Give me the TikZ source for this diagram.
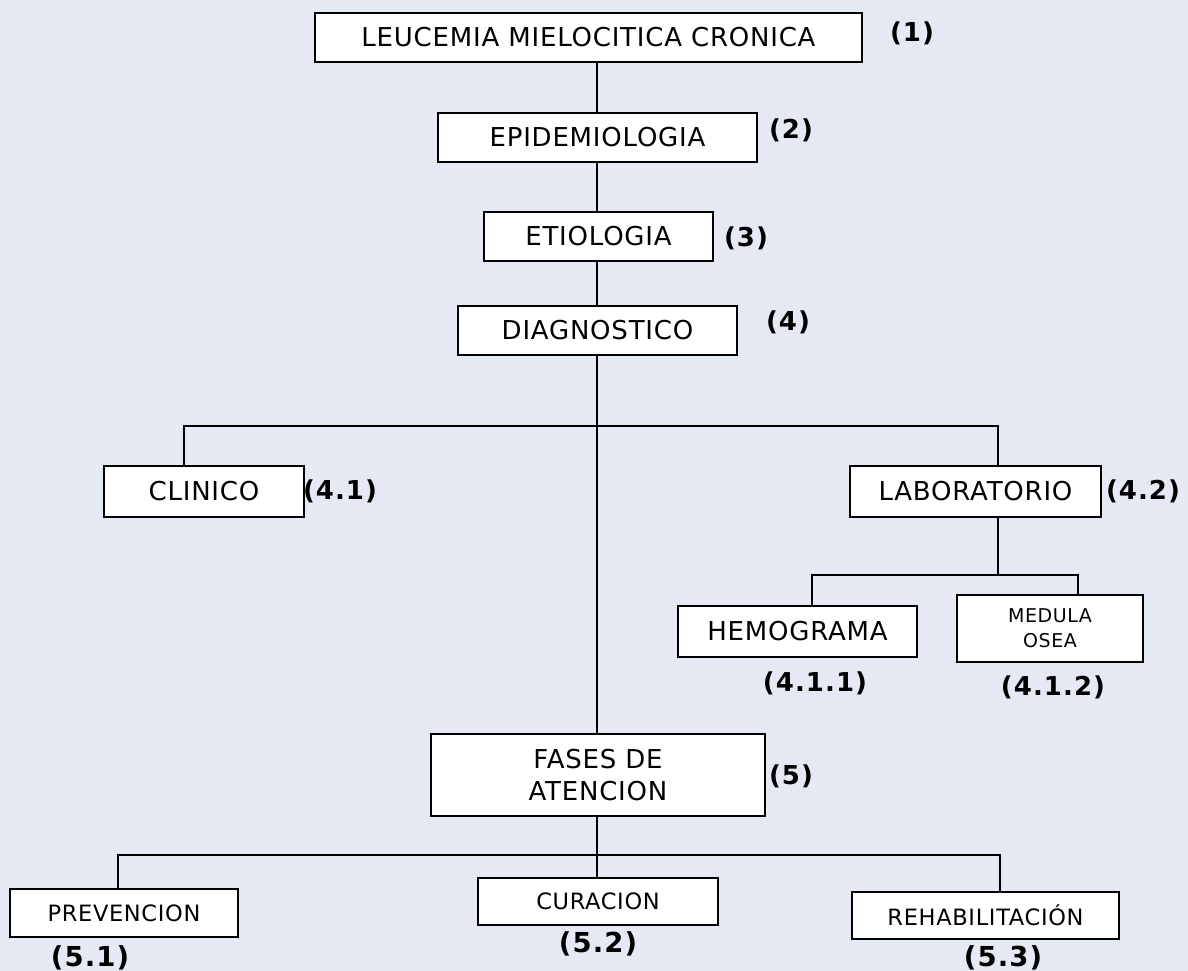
\documentclass[tikz,border=0pt]{standalone}
\usepackage{fontspec}
\setmainfont{DejaVu Sans}
\newfontfamily\boxfont[LetterSpace=3]{DejaVu Sans}
\newfontfamily\numfont[LetterSpace=4]{DejaVu Sans Bold}
\definecolor{bgcol}{RGB}{228,233,244}
\begin{document}
\begin{tikzpicture}[x=1pt,y=-1pt,
  box/.style={draw=black,fill=white,line width=2pt,inner sep=0pt,align=center,
              font=\boxfont\fontsize{26}{32}\selectfont},
  medbox/.style={box,font=\boxfont\fontsize{19}{25}\selectfont},
  lowbox/.style={box,font=\boxfont\fontsize{22.5}{28}\selectfont},
  num/.style={inner sep=0pt,font=\numfont\fontsize{26}{30}\selectfont},
  lownum/.style={num,font=\numfont\fontsize{27.5}{32}\selectfont},
  link/.style={draw=black,line width=2pt}]
\fill[bgcol] (0,0) rectangle (1188,971);
\useasboundingbox (0,0) rectangle (1188,971);

% branching points
\coordinate (spine) at (597,426);
\coordinate (labsplit) at (998,575);
\coordinate (phasesplit) at (597,855);

% boxes
\node[box,minimum width=547pt,minimum height=49pt] (lmc) at (588.5,37.5) {LEUCEMIA MIELOCITICA CRONICA};
\node[box,minimum width=319pt,minimum height=49pt] (epi) at (597.5,137.5) {EPIDEMIOLOGIA};
\node[box,minimum width=229pt,minimum height=49pt] (eti) at (598.5,236.5) {ETIOLOGIA};
\node[box,minimum width=279pt,minimum height=49pt] (dia) at (597.5,330.5) {DIAGNOSTICO};
\node[box,minimum width=200pt,minimum height=51pt] (cli) at (204,491.5) {CLINICO};
\node[box,minimum width=251pt,minimum height=51pt] (lab) at (975.5,491.5) {LABORATORIO};
\node[box,minimum width=239pt,minimum height=51pt] (hem) at (797.5,631.5) {HEMOGRAMA};
\node[medbox,minimum width=186pt,minimum height=67pt] (med) at (1050,628.5) {MEDULA\\OSEA};
\node[box,minimum width=334pt,minimum height=82pt] (fas) at (598,775) {FASES DE\\ATENCION};
\node[lowbox,minimum width=228pt,minimum height=48pt] (pre) at (124,913) {PREVENCION};
\node[lowbox,minimum width=240pt,minimum height=47pt] (cur) at (598,901.5) {CURACION};
\node[lowbox,minimum width=267pt,minimum height=47pt] (reh) at (985.5,915.5) {REHABILITACIÓN};

% numbering
\node[num] (n1) at (912,33) {(1)};
\node[num] (n2) at (791,130) {(2)};
\node[num] (n3) at (746,238) {(3)};
\node[num] (n4) at (788,322) {(4)};
\node[num] (n41) at (340,491) {(4.1)};
\node[num] (n42) at (1143,491) {(4.2)};
\node[num] (n411) at (815,683) {(4.1.1)};
\node[num] (n412) at (1053,687) {(4.1.2)};
\node[num] (n5) at (791,776) {(5)};
\node[lownum] (n51) at (90,958) {(5.1)};
\node[lownum] (n52) at (598,944) {(5.2)};
\node[lownum] (n53) at (1003,958) {(5.3)};

% connectors
\draw[link] (lmc.south -| spine) -- (epi.north -| spine);
\draw[link] (epi.south -| spine) -- (eti.north -| spine);
\draw[link] (eti.south -| spine) -- (dia.north -| spine);
\draw[link] (dia.south -| spine) -- (fas.north -| spine);
\draw[link] (cli.north -| 184,0) -- (184,426) -| (lab.north -| labsplit);
\draw[link] (lab.south -| labsplit) -- (labsplit);
\draw[link] (hem.north -| 812,0) |- (labsplit) -| (med.north -| 1078,0);
\draw[link] (fas.south -| phasesplit) -- (cur.north -| phasesplit);
\draw[link] (pre.north -| 118,0) |- (phasesplit) -| (reh.north -| 1000,0);
\end{tikzpicture}
\end{document}
